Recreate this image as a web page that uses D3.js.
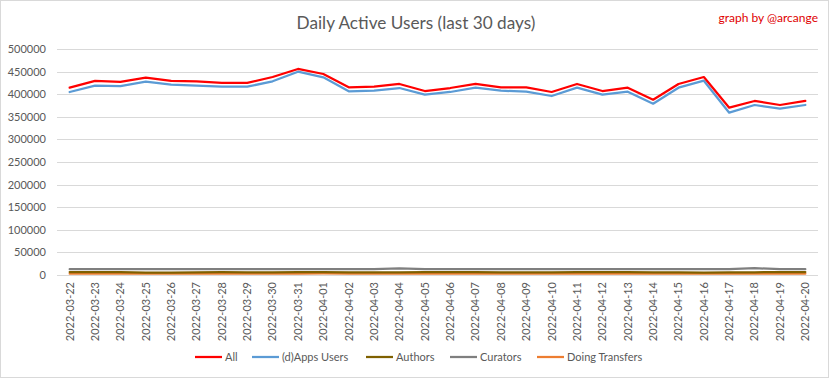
<!DOCTYPE html>
<html><head><meta charset="utf-8">
<script src="https://cdn.jsdelivr.net/npm/d3@7"></script>
<style>body{margin:0;background:#fff}svg{display:block}text{font-family:Lato,"Open Sans",sans-serif}</style>
</head><body><svg id="c" width="833" height="379"></svg>
<script>
const dates = ["2022-03-22","2022-03-23","2022-03-24","2022-03-25","2022-03-26","2022-03-27","2022-03-28","2022-03-29","2022-03-30","2022-03-31","2022-04-01","2022-04-02","2022-04-03","2022-04-04","2022-04-05","2022-04-06","2022-04-07","2022-04-08","2022-04-09","2022-04-10","2022-04-11","2022-04-12","2022-04-13","2022-04-14","2022-04-15","2022-04-16","2022-04-17","2022-04-18","2022-04-19","2022-04-20"];
const allUsers = [414500,429500,427500,436500,429500,428500,425000,425000,438000,455800,444700,415200,416600,422600,407000,413700,422600,415200,415200,404900,422600,407000,414400,387900,422600,438000,370200,385000,376100,385000];
const appsUsers = [404900,418800,418000,427700,421000,419000,416600,416600,428500,449800,437300,406400,407700,413700,398900,404900,414400,407700,405600,396000,414400,398900,405600,379000,414400,429900,359100,376100,368000,376100];
const authors = [6500,6500,6300,5500,5500,5800,6500,6000,6000,6200,6300,5800,5700,6000,6200,6300,6500,5600,5600,5600,6500,6500,6500,5600,5600,5500,5600,6000,6500,6500];
const curators = [12800,12800,12800,12800,12800,12800,12900,12800,12800,12800,12900,12800,13000,14500,13000,12800,12800,12800,12800,12800,12900,12800,12800,12800,12800,12800,13000,15000,13200,12800];
const transfers = [3000,3000,3000,3000,3000,3000,3200,3000,3000,3000,3500,3000,3000,3000,3000,3000,3000,3000,3000,3000,3000,3000,3000,3000,3000,3000,3000,3000,3000,3000];
const yTicks = [0,50000,100000,150000,200000,250000,300000,350000,400000,450000,500000];
const seriesNames = ["All","(d)Apps Users","Authors","Curators","Doing Transfers"];
const seriesColors = ["#FF0000","#5B9BD5","#7F6000","#7F7F7F","#ED7D31"];
const seriesValues = [allUsers, appsUsers, authors, curators, transfers];

const svg = d3.select("#c");
svg.append("rect").attr("x",0.5).attr("y",0.5).attr("width",828).attr("height",377)
  .attr("fill","#fff").attr("stroke","#D9D9D9");

const x = d3.scaleBand().domain(dates).range([57,818]);
const y = d3.scaleLinear().domain([0,500000]).range([275,49]);

svg.append("text").attr("x",416).attr("y",29).attr("text-anchor","middle")
  .attr("fill","#595959").style("font-size","17.2px").text("Daily Active Users (last 30 days)");
svg.append("text").attr("x",818).attr("y",22).attr("text-anchor","end")
  .attr("fill","#E00000").style("font-size","12px").text("graph by @arcange");

// gridlines
svg.append("g").selectAll("line").data(yTicks).join("line")
  .attr("x1",57).attr("x2",818).attr("y1",d=>Math.round(y(d))+0.5).attr("y2",d=>Math.round(y(d))+0.5)
  .attr("stroke","#D9D9D9").attr("stroke-width",1);

// y axis
const yAxis = d3.axisLeft(y).tickValues(yTicks).tickSize(0).tickPadding(0).tickFormat(d3.format("d"));
const gy = svg.append("g").attr("transform","translate(46,0)").call(yAxis);
gy.select(".domain").remove();
gy.selectAll("text").attr("fill","#595959").style("font-size","11px").style("font-family","Lato,'Open Sans',sans-serif");

// x axis
const xAxis = d3.axisBottom(x).tickSize(0).tickPadding(0);
const gx = svg.append("g").attr("transform","translate(0,282)").call(xAxis);
gx.select(".domain").remove();
gx.selectAll("text").attr("transform","rotate(-90)").attr("text-anchor","end")
  .attr("x",0).attr("y",0).attr("dy","0.35em").attr("dx",0)
  .attr("fill","#595959").style("font-size","11px").style("font-family","Lato,'Open Sans',sans-serif");

// lines
const line = d3.line().x((d,i)=>x(dates[i])+x.bandwidth()/2).y(d=>y(d));
const order = [4,3,2,1,0];
svg.append("g").selectAll("path").data(order).join("path")
  .attr("d",k=>line(seriesValues[k])).attr("fill","none")
  .attr("stroke",k=>seriesColors[k]).attr("stroke-width",2.25).attr("stroke-linejoin","round").attr("stroke-linecap","round");

// legend
const legX = [195,252,366,450,537];
const lg = svg.append("g").selectAll("g").data(seriesNames).join("g")
  .attr("transform",(d,i)=>`translate(${legX[i]},357)`);
lg.append("line").attr("x1",0).attr("x2",27).attr("y1",0).attr("y2",0)
  .attr("stroke",(d,i)=>seriesColors[i]).attr("stroke-width",2.25);
lg.append("text").attr("x",30).attr("y",0).attr("dy","0.35em").attr("fill","#595959")
  .style("font-size","11px").text(d=>d);
</script></body></html>
